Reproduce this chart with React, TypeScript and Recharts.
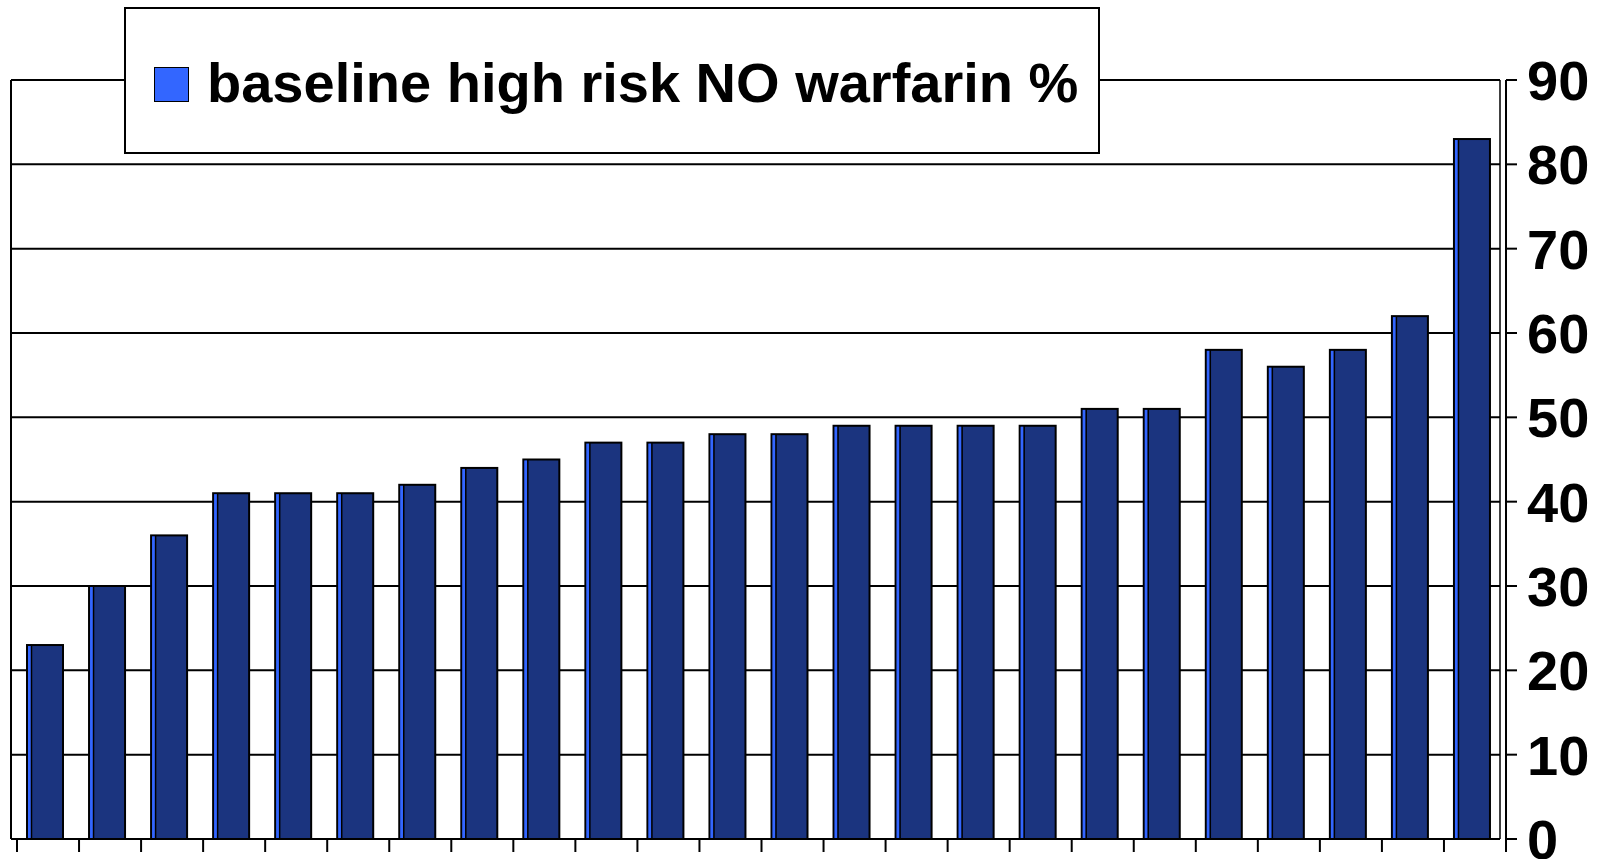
import { Bar, BarChart, CartesianGrid, Legend, XAxis, YAxis } from "recharts";

const categories = [
    "1", "2", "3", "4", "5", "6", "7", "8", "9", "10", "11", "12",
    "13", "14", "15", "16", "17", "18", "19", "20", "21", "22", "23", "24",
];
const riskValues = [
    23, 30, 36, 41, 41, 41, 42, 44, 45, 47, 47, 48,
    48, 49, 49, 49, 49, 51, 51, 58, 56, 58, 62, 83,
];
const yTicks = [0, 10, 20, 30, 40, 50, 60, 70, 80, 90];
const seriesName = "baseline high risk NO warfarin %";

const data = categories.map((c, i) => ({ name: c, value: riskValues[i] }));

const FONT = '"Liberation Sans", Arial, sans-serif';
const NAVY = "#1b347f";
const LIGHT = "#3366ff";

// bar with the thin light "side face" on its left
const BarShape = (props: any) => {
    const { x, y, width, height } = props;
    if (!height || height <= 0) return null;
    const bx = x - 3;
    return (
        <g>
            <rect x={bx} y={y} width={width} height={height} fill={NAVY} stroke="#000" strokeWidth={2} />
            <rect x={bx + 1} y={y + 1} width={3} height={height - 1} fill={LIGHT} />
            <line x1={bx + 4.5} y1={y} x2={bx + 4.5} y2={y + height} stroke="#000" strokeWidth={1.5} />
        </g>
    );
};

// tick marks sit on the category boundaries, not the centres
const BoundaryTick = (props: any) => {
    const { x, y, payload, index } = props;
    const half = payload && payload.offset ? payload.offset : 31;
    return (
        <g>
            <line x1={x - half} y1={y} x2={x - half} y2={y + 13} stroke="#000" strokeWidth={2} />
            {index === categories.length - 1 && (
                <line x1={x + half} y1={y} x2={x + half} y2={y + 13} stroke="#000" strokeWidth={2} />
            )}
        </g>
    );
};

const LegendBox = () => (
    <div
        style={{
            width: 976,
            height: 147,
            boxSizing: "border-box",
            border: "2px solid #000",
            background: "#fff",
            display: "flex",
            alignItems: "center",
            paddingLeft: 28,
            paddingTop: 5,
            fontFamily: FONT,
        }}
    >
        <div
            style={{
                width: 35,
                height: 35,
                boxSizing: "border-box",
                background: LIGHT,
                border: "1.5px solid #000",
                marginTop: 2,
            }}
        />
        <span style={{ marginLeft: 18, fontSize: 56, fontWeight: 700, color: "#000", lineHeight: 1 }}>
            {seriesName}
        </span>
    </div>
);

export default function App() {
    return (
        <div style={{ position: "absolute", left: 0, top: 0, width: 1603, height: 859, background: "#fff" }}>
            <BarChart
                width={1603}
                height={859}
                data={data}
                margin={{ top: 80, right: 0, bottom: 0, left: 10 }}
                barSize={36}
            >
                <CartesianGrid vertical={false} stroke="#000" strokeWidth={2} yAxisId="main" />
                <XAxis
                    dataKey="name"
                    height={20}
                    padding={{ left: 6, right: -6 }}
                    axisLine={{ stroke: "#000", strokeWidth: 2 }}
                    tickLine={false}
                    tickSize={0}
                    tickMargin={0}
                    interval={0}
                    tick={<BoundaryTick />}
                />
                <YAxis
                    yAxisId="left"
                    orientation="left"
                    width={1}
                    domain={[0, 90]}
                    ticks={yTicks}
                    axisLine={{ stroke: "#000", strokeWidth: 2 }}
                    tickLine={false}
                    tick={false}
                />
                <YAxis
                    yAxisId="inner"
                    orientation="right"
                    width={6}
                    domain={[0, 90]}
                    ticks={yTicks}
                    axisLine={{ stroke: "#000", strokeWidth: 1.5 }}
                    tickLine={{ stroke: "#000", strokeWidth: 2 }}
                    tickSize={6}
                    tick={false}
                />
                <YAxis
                    yAxisId="main"
                    orientation="right"
                    width={97}
                    domain={[0, 90]}
                    ticks={yTicks}
                    interval={0}
                    axisLine={{ stroke: "#000", strokeWidth: 2 }}
                    tickLine={{ stroke: "#000", strokeWidth: 2 }}
                    tickSize={11}
                    tickMargin={10}
                    tick={{ fill: "#000", fontSize: 56, fontWeight: 700, fontFamily: FONT }}
                />
                <Legend
                    layout="horizontal"
                    verticalAlign="middle"
                    align="center"
                    content={<LegendBox />}
                    wrapperStyle={{ left: 124, top: 7, width: 976, height: 147 }}
                />
                <Bar
                    yAxisId="main"
                    dataKey="value"
                    name={seriesName}
                    shape={<BarShape />}
                    isAnimationActive={false}
                />
            </BarChart>
        </div>
    );
}
